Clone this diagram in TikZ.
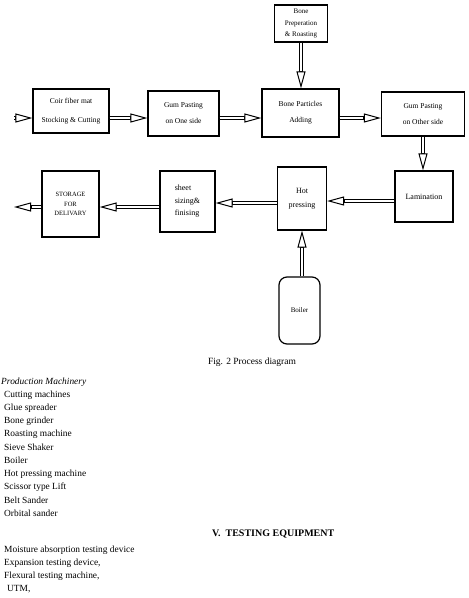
\documentclass[tikz,border=0pt]{standalone}
\usepackage{fontspec}
\setmainfont{Liberation Serif}
\usetikzlibrary{arrows.meta}
\begin{document}
\begin{tikzpicture}[x=1pt,y=-1pt,
  blk/.style={draw, line width=1.2pt, inner sep=0pt, align=center, font=\fontsize{7.5}{9}\selectfont},
  flow/.style={preaction={draw, -, line width=4.6pt, shorten >=15pt},
    draw, line width=1pt, -{Triangle[open, fill=white, length=17pt, width=9pt, line width=1pt]},
    postaction={draw=white, -, line width=2pt, shorten >=17.5pt}},
  txt/.style={anchor=base west, inner sep=0pt, font=\fontsize{9.4}{11}\selectfont}]
\useasboundingbox (0,0) rectangle (469,598);
% process boxes
\node[blk, minimum width=76pt, minimum height=44pt] (coir) at (71,111) {Coir fiber mat\\[10pt]Stocking \& Cutting};
\node[blk, minimum width=71pt, minimum height=45pt] (gumone) at (183.5,113.5) {Gum Pasting\\[7pt]on One side};
\node[blk, minimum width=53pt, minimum height=37pt, font=\fontsize{7}{9}\selectfont] (prep) at (301,23.5) {Bone\\[2.5pt]Preperation\\[2pt]\& Roasting};
\node[blk, minimum width=77pt, minimum height=48pt] (bone) at (300.5,113) {Bone Particles\\[7pt]Adding};
\node[blk, minimum width=83pt, minimum height=44pt] (gumtwo) at (423,114) {Gum Pasting\\[7pt]on Other side};
\node[blk, minimum width=58pt, minimum height=51pt, font=\fontsize{8}{9}\selectfont] (lam) at (424,196.5) {Lamination};
\node[blk, minimum width=49pt, minimum height=63pt, font=\fontsize{8}{9}\selectfont] (hot) at (302,198.5) {Hot\\[5pt]pressing};
\node[blk, minimum width=55pt, minimum height=61pt, align=left, font=\fontsize{8}{9}\selectfont] (sheet) at (187.5,201.5) {sheet\\[4pt]sizing\&\\[3pt]finising};
\node[blk, minimum width=57pt, minimum height=66pt, font=\fontsize{6.5}{9.5}\selectfont] (store) at (70.5,204) {STORAGE\\FOR\\DELIVARY};
\node[blk, minimum width=41pt, minimum height=67pt, rounded corners=8pt, font=\fontsize{7}{9}\selectfont] (boiler) at (299.5,310.5) {Boiler};
\coordinate (in) at (14,118);
\coordinate (out) at (14,207);
% arrows
\draw[flow] (in) -- (in -| coir.west);
\draw[flow] ([yshift=-7pt]coir.east) -- ([yshift=-7pt]coir.east -| gumone.west);
\draw[flow] ([yshift=-4.5pt]gumone.east) -- ([yshift=-4.5pt]gumone.east -| bone.west);
\draw[flow] (prep.south) -- (prep.south |- bone.north);
\draw[flow] ([yshift=-5pt]bone.east) -- ([yshift=-5pt]bone.east -| gumtwo.west);
\draw[flow] (gumtwo.south) -- (gumtwo.south |- lam.north);
\draw[flow] ([yshift=-4.5pt]lam.west) -- ([yshift=-4.5pt]lam.west -| hot.east);
\draw[flow] ([yshift=-4.5pt]hot.west) -- ([yshift=-4.5pt]hot.west -| sheet.east);
\draw[flow] ([yshift=-5.5pt]sheet.west) -- ([yshift=-5.5pt]sheet.west -| store.east);
\draw[flow] ([yshift=-3pt]store.west) -- (out);
\draw[flow] (boiler.north -| hot.south) -- (hot.south);
% caption and lists
\node[font=\fontsize{9.5}{11}\selectfont, inner sep=0pt] (cap) at (252,362) {Fig. 2 Process diagram};
\node[txt, font=\fontsize{9.4}{11}\selectfont\itshape] (pm) at (1,384) {Production Machinery};
\node[txt] (mone) at (4,397) {Cutting machines};
\node[txt] (mtwo) at (4,410.3) {Glue spreader};
\node[txt] (mthree) at (4,423.5) {Bone grinder};
\node[txt] (mfour) at (4,436.8) {Roasting machine};
\node[txt] (mfive) at (4,450.1) {Sieve Shaker};
\node[txt] (msix) at (4,463.4) {Boiler};
\node[txt] (mseven) at (4,476.6) {Hot pressing machine};
\node[txt] (meight) at (4,489.9) {Scissor type Lift};
\node[txt] (mnine) at (4,503.2) {Belt Sander};
\node[txt] (mten) at (4,516.5) {Orbital sander};
\node[txt, font=\fontsize{10}{11}\selectfont\bfseries] (head) at (212,536) {V.\ \ TESTING EQUIPMENT};
\node[txt] (tone) at (4,552) {Moisture absorption testing device};
\node[txt] (ttwo) at (4,565.3) {Expansion testing device,};
\node[txt] (tthree) at (4,578.6) {Flexural testing machine,};
\node[txt] (tfour) at (7,591.9) {UTM,};
\end{tikzpicture}
\end{document}
